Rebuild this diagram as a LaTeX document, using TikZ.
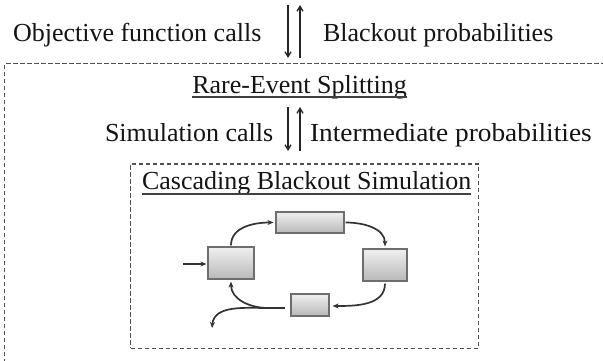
\documentclass[tikz,border=0pt]{standalone}
\usepackage{fontspec}
\setmainfont{Liberation Serif}
\usetikzlibrary{arrows.meta,calc}
\definecolor{dashcol}{HTML}{505050}
\definecolor{linecol}{HTML}{333333}
\definecolor{boxedge}{HTML}{6E6E6E}
\tikzset{
  lbl/.style={inner sep=0pt, outer sep=0pt, font=\fontsize{26}{31}\selectfont, text=black!92},
  dashbox/.style={draw=dashcol, line width=1.4pt, dash pattern=on 4.5pt off 2.5pt},
  varrow/.style={draw=black!85, line width=1.3pt, -{Straight Barb[length=5pt,width=6pt]}},
  flow/.style={draw=linecol, line width=1.7pt, -{Stealth[length=6pt,width=5pt]}},
  flowline/.style={draw=linecol, line width=1.7pt},
  block/.style={draw=boxedge, line width=1.2pt, top color=gray!12, bottom color=gray!55, inner sep=0pt},
  uline/.style={draw=black!75, line width=1.8pt}
}
\begin{document}
\begin{tikzpicture}[x=1pt,y=1pt]
\useasboundingbox (0,0) rectangle (603,360);
\clip (0,0) rectangle (603,360);
% outer dashed box (continues beyond the picture)
\draw[dashbox] (4.5,-10) -- (4.5,296.5) -- (615,296.5);
% inner dashed box
\node[dashbox, minimum width=348pt, minimum height=184.5pt, inner sep=0pt, anchor=south west] (inner) at (130,11) {};
% top row
\node[lbl, anchor=base west] (obj) at (13,319) {Objective function calls};
\node[lbl, anchor=base west] (bp) at (323,319) {Blackout probabilities};
\coordinate (t1) at (288,355);
\coordinate (t2) at (288,302);
\coordinate (t3) at (300,302);
\coordinate (t4) at (300,355);
\draw[varrow] (t1) -- (t2);
\draw[varrow] (t3) -- (t4);
% rare-event splitting
\node[lbl, anchor=base] (res) at (299.5,267) {Rare-Event Splitting};
\draw[uline] ([yshift=-4pt]res.base west) -- ([yshift=-4pt]res.base east);
% middle row
\node[lbl, anchor=base west] (sc) at (105,219) {Simulation calls};
\node[lbl, anchor=base west] (ip) at (310,219) {\scalebox{1.052}[1]{Intermediate probabilities}};
\coordinate (m1) at (288,253);
\coordinate (m2) at (288,209);
\coordinate (m3) at (300,209);
\coordinate (m4) at (300,253);
\draw[varrow] (m1) -- (m2);
\draw[varrow] (m3) -- (m4);
% cascading
\node[lbl, anchor=base west] (cbs) at (142,171) {Cascading Blackout Simulation};
\draw[uline] ([yshift=-5pt]cbs.base west) -- ([yshift=-5pt]cbs.base east);
% flow boxes
\node[block, minimum width=68pt, minimum height=21pt] (T) at (310,137.5) {};
\node[block, minimum width=46pt, minimum height=32pt] (L) at (231,97) {};
\node[block, minimum width=44pt, minimum height=32pt] (R) at (385,95) {};
\node[block, minimum width=38pt, minimum height=22pt] (B) at (310,55) {};
\coordinate (in) at (183,96);
\coordinate (ret) at (285,52);
\coordinate (j) at (268,52);
\coordinate (out) at (212,32);
\draw[flow] (in) -- ([xshift=-1pt]L.west |- in);
\draw[flow] ([yshift=1pt]L.north) to[out=90,in=180] ([xshift=-2pt]T.west);
\draw[flow] ([xshift=1pt]T.east) to[out=0,in=90] ([yshift=2pt]R.north);
\draw[flow] ([yshift=-2pt]R.south) to[out=-90,in=0] ([xshift=3pt,yshift=-1pt]B.east);
\draw[flowline] (ret) -- (j);
\draw[flow] (j) to[out=180,in=-90] ([yshift=-2pt]L.south);
\draw[flow] (j) to[out=180,in=85] (out);
\end{tikzpicture}
\end{document}
